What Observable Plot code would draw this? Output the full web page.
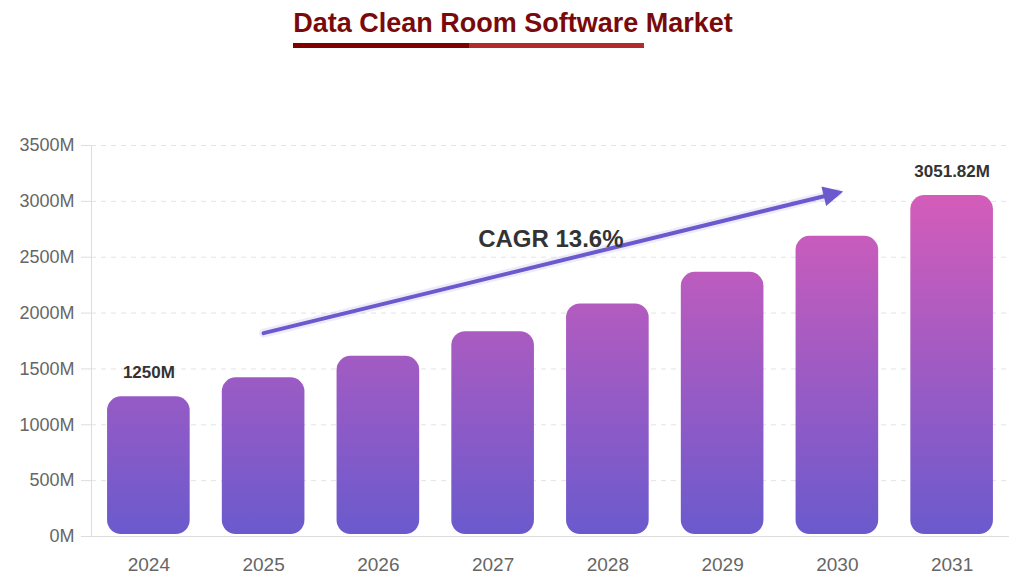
<!DOCTYPE html>
<html>
<head>
<meta charset="utf-8">
<script src="https://cdn.jsdelivr.net/npm/d3@7"></script>
<script src="https://cdn.jsdelivr.net/npm/@observablehq/plot@0.6"></script>
<style>
  html, body { margin: 0; padding: 0; background: #fff; }
  body { width: 1020px; height: 581px; overflow: hidden; font-family: "Liberation Sans", Arial, sans-serif; }
  .header { height: 60px; text-align: center; }
  .title-box { display: inline-block; text-align: left; padding-top: 8px; padding-left: 6px; }
  .title { margin: 0; font-size: 27px; line-height: 31px; font-weight: bold; color: #7a0a0a; white-space: nowrap; }
  .underline { display: flex; width: 351px; height: 5px; margin-top: 4px; }
  .underline .a { flex: 1; background: #800000; }
  .underline .b { flex: 1; background: #b22a2a; }
  #chart svg { display: block; }
</style>
</head>
<body>
<div class="header">
  <div class="title-box">
    <h1 class="title">Data Clean Room Software Market</h1>
    <div class="underline"><div class="a"></div><div class="b"></div></div>
  </div>
</div>
<div id="chart"></div>
<script>
// Market size by year, in millions of USD
const years = ["2024", "2025", "2026", "2027", "2028", "2029", "2030", "2031"];
const values = [1250, 1420, 1613, 1833, 2082, 2365, 2687, 3051.82];

// Axis ticks
const yTicks = [0, 500, 1000, 1500, 2000, 2500, 3000, 3500];

// Years whose value is printed above the bar
const labelledYears = ["2024", "2031"];

// Growth arrow endpoints and its caption
const arrowYears = ["2025", "2030"];
const arrowValues = [1820, 3075];
const cagrText = "CAGR 13.6%";
const cagrYear = "2027";
const cagrValue = 2660;

const rows = years.map((year, i) => ({year, value: values[i]}));
const labelRows = rows.filter(d => labelledYears.includes(d.year));
const arrowRows = arrowYears.map((year, i) => ({year, value: arrowValues[i]}));

// Filled triangular arrowhead that follows the line direction
function arrowHead(color) {
  const ns = "http://www.w3.org/2000/svg";
  const marker = document.createElementNS(ns, "marker");
  marker.setAttribute("viewBox", "0 -5 10 10");
  marker.setAttribute("markerUnits", "userSpaceOnUse");
  marker.setAttribute("markerWidth", 22);
  marker.setAttribute("markerHeight", 20);
  marker.setAttribute("refX", 7);
  marker.setAttribute("refY", 0);
  marker.setAttribute("orient", "auto");
  const path = document.createElementNS(ns, "path");
  path.setAttribute("d", "M0,-5L10,0L0,5Z");
  path.setAttribute("fill", color);
  path.setAttribute("stroke", "none");
  marker.appendChild(path);
  return marker;
}

// Vertical gradient shared by all bars, anchored to the y scale
function gradientDefs(index, scales) {
  const y0 = scales.y(0), y1 = scales.y(3100);
  const defs = d3.create("svg:defs");
  const g = defs.append("linearGradient")
    .attr("id", "barGradient")
    .attr("gradientUnits", "userSpaceOnUse")
    .attr("x1", 0).attr("x2", 0)
    .attr("y1", y0).attr("y2", y1);
  g.append("stop").attr("offset", "0%").attr("stop-color", "#6a5acd");
  g.append("stop").attr("offset", "100%").attr("stop-color", "#d65cb9");
  return defs.node();
}

const chart = Plot.plot({
  width: 1020,
  height: 521,
  marginTop: 85,
  marginBottom: 45,
  marginLeft: 91,
  marginRight: 11,
  style: {fontFamily: "'Liberation Sans', Arial, sans-serif", background: "#fff"},
  x: {domain: years, paddingInner: 0.28, paddingOuter: 0.14, round: false, label: null},
  y: {domain: [0, 3500], label: null},
  marks: [
    gradientDefs,
    Plot.gridY(yTicks, {stroke: "#e3e3e3", strokeOpacity: 1, strokeDasharray: "5,5"}),
    Plot.frame({anchor: "left", stroke: "#dddddd"}),
    Plot.ruleY([0], {stroke: "#dddddd"}),
    Plot.axisY(yTicks, {
      tickSize: 10, tickPadding: 7, fontSize: 18,
      stroke: "#dddddd", fill: "#666", tickFormat: d => `${d}M`, label: null
    }),
    Plot.axisX({tickSize: 0, tickPadding: 21, fontSize: 19, fill: "#666", label: null}),
    Plot.barY(rows, {x: "year", y: "value", rx: 14, fill: "url(#barGradient)", insetBottom: 2}),
    Plot.text(labelRows, {
      x: "year", y: "value", text: d => `${d.value}M`, dy: -24,
      fontSize: 17, fontWeight: "bold", fill: "#333"
    }),
    Plot.line(arrowRows, {x: "year", y: "value", stroke: "#6a5acd", strokeWidth: 9, strokeOpacity: 0.12}),
    Plot.line(arrowRows, {x: "year", y: "value", stroke: "#6a5acd", strokeWidth: 4, markerEnd: arrowHead}),
    Plot.text([{year: cagrYear, value: cagrValue, text: cagrText}], {
      x: "year", y: "value", text: "text", textAnchor: "start", dx: -15,
      fontSize: 24, fontWeight: "bold", fill: "#333"
    })
  ]
});

document.getElementById("chart").appendChild(chart);
</script>
</body>
</html>
